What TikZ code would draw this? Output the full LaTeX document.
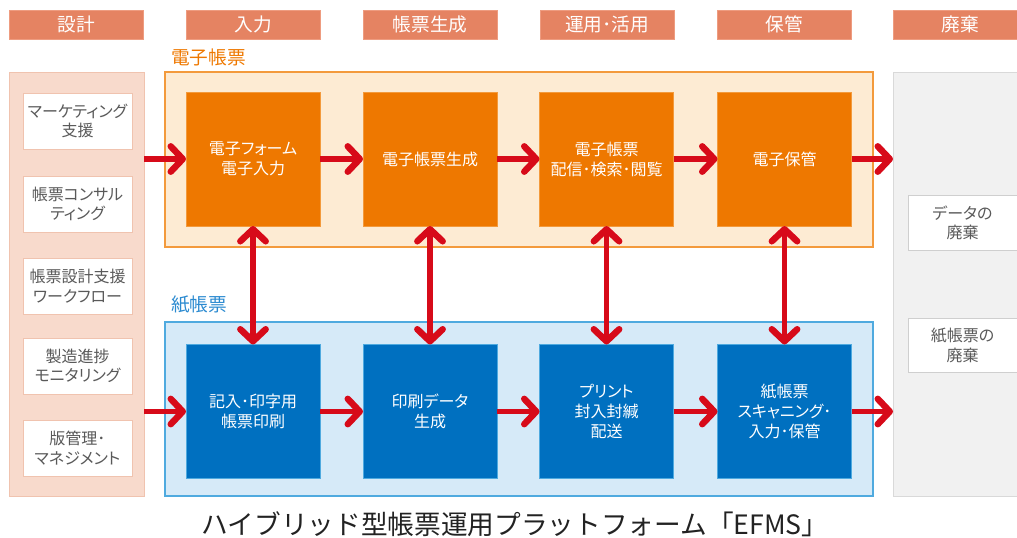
\documentclass[tikz,border=0pt]{standalone}
\usepackage{fontspec}
\setmainfont{Noto Sans CJK JP}
\newfontfamily\pfont[RawFeature=+palt]{Noto Sans CJK JP}
\usetikzlibrary{arrows.meta}
\definecolor{hdrc}{HTML}{E58362}
\definecolor{hdrb}{HTML}{EE9C80}
\definecolor{orc}{HTML}{EE7800}
\definecolor{orb}{HTML}{F39A3C}
\definecolor{orbg}{HTML}{FDEBD3}
\definecolor{blc}{HTML}{0070C0}
\definecolor{blb}{HTML}{4FAADF}
\definecolor{blbg}{HTML}{D6EAF8}
\definecolor{lcol}{HTML}{F8DACC}
\definecolor{lcolb}{HTML}{F0C3AF}
\definecolor{gcol}{HTML}{F1F1F1}
\definecolor{gcolb}{HTML}{D9D9D9}
\definecolor{gboxb}{HTML}{CFCFCF}
\definecolor{txtg}{HTML}{595959}
\definecolor{arrc}{HTML}{D70A19}
\definecolor{lblbl}{HTML}{2B8AD0}
\definecolor{ttl}{HTML}{222222}
\tikzset{mybarb/.tip={Straight Barb[length=9pt, width=19pt, round, line width=0pt 1.25]}}
\begin{document}
\begin{tikzpicture}[x=0.75pt,y=-0.75pt,
  hdr/.style={fill=hdrc, draw=hdrb, line width=0.75pt, text=white, minimum width=100.5pt, minimum height=21.75pt, inner sep=0pt, outer sep=0pt, font=\fontsize{14pt}{16pt}\selectfont},
  col/.style={line width=0.75pt, minimum width=101.25pt, minimum height=318pt, inner sep=0pt, outer sep=0pt},
  cont/.style={line width=0.9pt, minimum width=531pt, inner sep=0pt, outer sep=0pt},
  sq/.style={line width=0.75pt, text=white, minimum width=100.5pt, minimum height=100.5pt, inner sep=0pt, outer sep=0pt, align=center, font=\pfont\fontsize{12pt}{15pt}\selectfont},
  ob/.style={sq, fill=orc, draw=orb},
  bb/.style={sq, fill=blc, draw=blb},
  sbox/.style={fill=white, line width=0.75pt, text=txtg, minimum width=81.75pt, minimum height=42pt, inner sep=0pt, outer sep=0pt, align=center, font=\pfont\fontsize{12pt}{14.5pt}\selectfont},
  lbox/.style={sbox, draw=lcolb},
  gbox/.style={sbox, draw=gboxb, minimum height=41pt},
  arr/.style={draw=arrc, line width=3.9pt, -mybarb},
  darr/.style={draw=arrc, line width=3.9pt, mybarb-mybarb},
  grp/.style={anchor=west, inner sep=0pt, font=\fontsize{14pt}{16pt}\selectfont}
]
\useasboundingbox (0,0) rectangle (1017,537);
% headers
\node[hdr] (h1) at (76,24.5) {設計};
\node[hdr] (h2) at (253,24.5) {入力};
\node[hdr] (h3) at (430,24.5) {帳票生成};
\node[hdr] (h4) at (607,24.5) {運用･活用};
\node[hdr] (h5) at (784.5,24.5) {保管};
\node[hdr] (h6) at (960,24.5) {廃棄};
% side columns
\node[col, fill=lcol, draw=lcolb] (lc) at (76.5,284) {};
\node[col, fill=gcol, draw=gcolb] (gc) at (960.5,284) {};
% containers
\node[cont, fill=orbg, draw=orb, minimum height=131.25pt] (oc) at (519,159.5) {};
\node[cont, fill=blbg, draw=blb, minimum height=130.5pt] (bc) at (519,409) {};
\node[grp, text=orc] (ol) at (171,57) {電子帳票};
\node[grp, text=lblbl] (bl) at (171,305) {紙帳票};
% left boxes
\node[lbox] (l1) at (77.5,121) {マーケティング\\支援};
\node[lbox] (l2) at (77.5,204) {帳票コンサル\\ティング};
\node[lbox] (l3) at (77.5,286) {帳票設計支援\\ワークフロー};
\node[lbox] (l4) at (77.5,366) {製造進捗\\モニタリング};
\node[lbox] (l5) at (77.5,448) {版管理･\\マネジメント};
% right boxes
\node[gbox] (g1) at (962.5,223) {データの\\廃棄};
\node[gbox] (g2) at (962.5,345.5) {紙帳票の\\廃棄};
% orange boxes
\node[ob] (o1) at (253,159) {電子フォーム\\電子入力};
\node[ob] (o2) at (430,159) {電子帳票生成};
\node[ob] (o3) at (606.5,159) {電子帳票\\配信･検索･閲覧};
\node[ob] (o4) at (784.5,159) {電子保管};
% blue boxes
\node[bb] (b1) at (253,411.5) {記入･印字用\\帳票印刷};
\node[bb] (b2) at (430,411.5) {印刷データ\\生成};
\node[bb] (b3) at (606.5,411.5) {プリント\\封入封緘\\配送};
\node[bb] (b4) at (784.5,411.5) {紙帳票\\スキャニング･\\入力･保管};
% arrows
\draw[arr] (lc.east |- o1.west) -- (o1.west);
\draw[arr] (o1.east) -- (o2.west);
\draw[arr] (o2.east) -- (o3.west);
\draw[arr] (o3.east) -- (o4.west);
\draw[arr] (o4.east) -- (gc.west |- o4.east);
\draw[arr] (lc.east |- b1.west) -- (b1.west);
\draw[arr] (b1.east) -- (b2.west);
\draw[arr] (b2.east) -- (b3.west);
\draw[arr] (b3.east) -- (b4.west);
\draw[arr] (b4.east) -- (gc.west |- b4.east);
\draw[darr] (o1.south) -- (b1.north);
\draw[darr] (o2.south) -- (b2.north);
\draw[darr] (o3.south) -- (b3.north);
\draw[darr] (o4.south) -- (b4.north);
% title
\node[text=ttl, inner sep=0pt, font=\fontsize{20pt}{22pt}\selectfont] (t) at (515,524) {ハイブリッド型帳票運用プラットフォーム「EFMS」};
\end{tikzpicture}
\end{document}
